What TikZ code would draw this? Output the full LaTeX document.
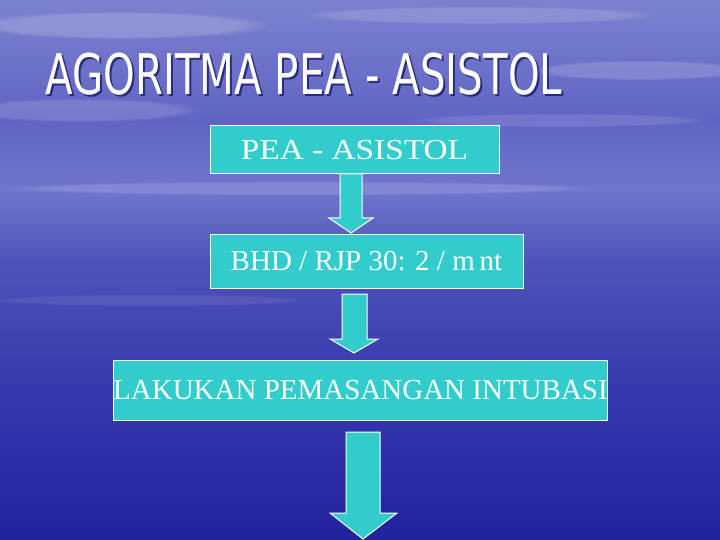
\documentclass[tikz,border=0pt]{standalone}
\usepackage{fontspec}
\setmainfont{Liberation Serif}
\newfontfamily\titlefont{DejaVu Sans}
\usetikzlibrary{fadings}
\definecolor{boxcyan}{RGB}{51,204,204}
\definecolor{seaA}{RGB}{34,34,158}
\definecolor{seaB}{RGB}{56,58,174}
\definecolor{seaC}{RGB}{78,83,187}
\definecolor{seaD}{RGB}{112,118,204}
\definecolor{seaE}{RGB}{96,100,196}
\definecolor{seaF}{RGB}{124,130,207}
\pgfdeclareverticalshading{bgsea}{100bp}{color(0bp)=(seaA); color(25bp)=(seaA); color(39.8bp)=(seaB); color(50.9bp)=(seaC); color(57.4bp)=(seaD); color(63.9bp)=(seaE); color(75bp)=(seaF); color(100bp)=(seaF)}
\tikzset{
  flowbox/.style={draw=white, line width=1pt, fill=boxcyan, text=white, inner sep=0pt,
    font=\fontsize{29}{34}\selectfont},
  blockarrow/.style={draw=white, line width=1pt, fill=boxcyan, line join=miter},
  cloud/.style={white, path fading=circle with fuzzy edge 20 percent}
}
\begin{document}
\begin{tikzpicture}[x=1pt, y=-1pt]
\useasboundingbox (0,0) rectangle (720,540);
\shade[shading=bgsea] (0,0) rectangle (720,540);
% soft clouds
\fill[cloud, opacity=0.18] (120,25) ellipse (150 and 14);
\fill[cloud, opacity=0.14] (480,15) ellipse (180 and 9);
\fill[cloud, opacity=0.16] (640,70) ellipse (110 and 10);
\fill[cloud, opacity=0.14] (80,110) ellipse (120 and 12);
\fill[cloud, opacity=0.12] (560,120) ellipse (150 and 7);
\fill[cloud, opacity=0.14] (300,188) ellipse (300 and 7);
\fill[cloud, opacity=0.08] (150,300) ellipse (160 and 6);
% title
\node[anchor=base west, inner sep=0pt, text=black!70!blue, opacity=0.6] (titleshadow) at (47,97)
  {\resizebox{517pt}{\height}{\titlefont\fontsize{56}{60}\selectfont AGORITMA PEA - ASISTOL}};
\node[anchor=base west, inner sep=0pt, text=white] (title) at (45,95)
  {\resizebox{517pt}{\height}{\titlefont\fontsize{56}{60}\selectfont AGORITMA PEA - ASISTOL}};
% boxes
\node[flowbox, minimum width=289pt, minimum height=48pt] (b1) at (354.5,150) {\resizebox{227pt}{\height}{PEA - ASISTOL}};
\node[flowbox, minimum width=313pt, minimum height=54pt] (b2) at (366.5,261) {BHD / RJP 30: 2 / m\,nt};
\node[flowbox, minimum width=493pt, minimum height=60pt] (b3) at (360.5,390) {LAKUKAN PEMASANGAN INTUBASI};
% arrows
\draw[blockarrow] (340,174) -- (362,174) -- (362,218) -- (373,218) -- (351,233) -- (329,218) -- (340,218) -- cycle;
\draw[blockarrow] (342,294) -- (367,294) -- (367,339) -- (378,339) -- (354,353) -- (330,339) -- (342,339) -- cycle;
\draw[blockarrow] (346,432) -- (380,432) -- (380,513) -- (397,513) -- (363,539) -- (330,513) -- (346,513) -- cycle;
\end{tikzpicture}
\end{document}
